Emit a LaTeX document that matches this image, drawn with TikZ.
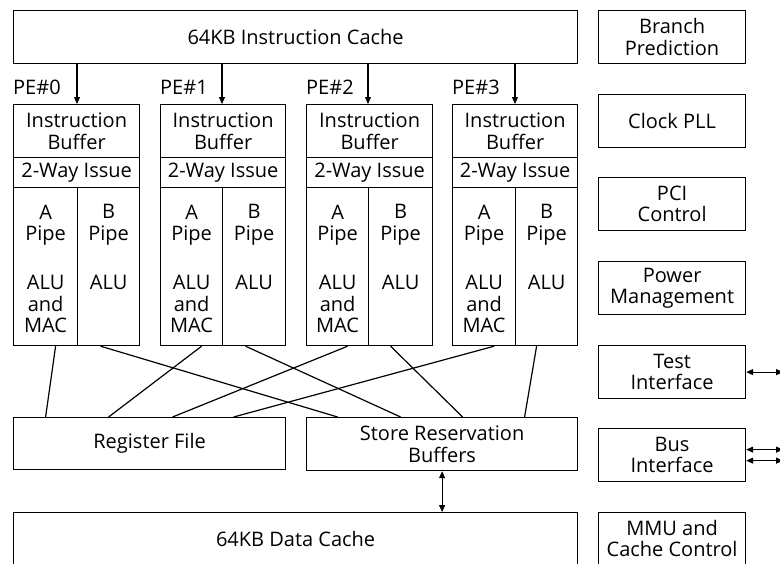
\documentclass[tikz,border=0pt]{standalone}
\usepackage{fontspec}
\setmainfont{Open Sans}
\usetikzlibrary{arrows.meta,calc}
\newcommand\dgfont{\fontsize{20}{21.5}\selectfont}
\begin{document}
\begin{tikzpicture}[x=1pt,y=-1pt,
  box/.style={draw,line width=1.2pt,inner sep=0pt,align=center,font=\dgfont,anchor=north west},
  txt/.style={inner sep=0pt,align=center,font=\dgfont},
  ln/.style={line width=1.2pt},
  arr/.style={line width=1.2pt,-{Triangle[length=7pt,width=6pt]}},
  darr/.style={line width=1.2pt,{Triangle[length=7pt,width=6pt]}-{Triangle[length=7pt,width=6pt]}}]
\useasboundingbox (0,0) rectangle (780,563);
% top cache
\node[box,minimum width=564pt,minimum height=53pt] (ic) at (13,10) {64KB Instruction Cache};
% right column
\node[box,minimum width=147pt,minimum height=53pt] (bp) at (598,10) {Branch\\Prediction};
\node[box,minimum width=147pt,minimum height=53pt] (clk) at (598,94) {Clock PLL};
\node[box,minimum width=147pt,minimum height=53pt] (pci) at (598,177) {PCI\\Control};
\node[box,minimum width=147pt,minimum height=53pt] (pwr) at (598,261) {Power\\Management};
\node[box,minimum width=147pt,minimum height=53pt] (tst) at (598,345) {Test\\Interface};
\node[box,minimum width=147pt,minimum height=53pt] (bus) at (598,428) {Bus\\Interface};
\node[box,minimum width=147pt,minimum height=52pt] (mmu) at (598,512) {MMU and\\Cache Control};
% PEs
\foreach \i/\L/\S/\R in {0/13/77/139, 1/160/222/285, 2/306/368/432, 3/452/515/577}{
  \node[box,minimum width={(\R-\L)*1pt},minimum height=53pt] (ib\i) at (\L,104) {Instruction\\Buffer};
  \node[box,minimum width={(\R-\L)*1pt},minimum height=30pt] (is\i) at (\L,157) {2-Way Issue};
  \node[box,minimum width={(\S-\L)*1pt},minimum height=158pt] (pa\i) at (\L,187) {};
  \node[box,minimum width={(\R-\S)*1pt},minimum height=158pt] (pb\i) at (\S,187) {};
  \node[txt,anchor=north] (ta\i) at ([yshift=-17.5pt]pa\i.north) {A\\Pipe\\[27.5pt]ALU\\and\\MAC};
  \node[txt,anchor=north] (tb\i) at ([yshift=-17.5pt]pb\i.north) {B\\Pipe\\[27.5pt]ALU};
  \node[txt,anchor=base west] (pe\i) at (\L,94) {PE\#\i};
  \draw[arr] (ic.south -| pb\i.west) -- (ib\i.north -| pb\i.west);
}
% bottom blocks
\node[box,minimum width=272pt,minimum height=52pt] (rf) at (13,417) {Register File};
\node[box,minimum width=271pt,minimum height=53pt] (srb) at (306,417) {Store Reservation\\Buffers};
\node[box,minimum width=564pt,minimum height=52pt] (dc) at (13,512) {64KB Data Cache};
% crossbar
\draw[ln] ([xshift=10pt]pa0.south) -- ([xshift=-104pt]rf.north);
\draw[ln] ([xshift=10pt]pa1.south) -- ([xshift=-41pt]rf.north);
\draw[ln] ([xshift=10pt]pa2.south) -- ([xshift=23pt]rf.north);
\draw[ln] ([xshift=10pt]pa3.south) -- ([xshift=84pt]rf.north);
\draw[ln] ([xshift=-8pt]pb0.south) -- ([xshift=-104.5pt]srb.north);
\draw[ln] ([xshift=-8.5pt]pb1.south) -- ([xshift=-41.5pt]srb.north);
\draw[ln] ([xshift=-10pt]pb2.south) -- ([xshift=20.5pt]srb.north);
\draw[ln] ([xshift=-10pt]pb3.south) -- ([xshift=82.5pt]srb.north);
% data path
\draw[darr] (srb.south) -- (srb.south |- dc.north);
% external
\coordinate (ext) at (783,0);
\draw[darr] (tst.east) -- (tst.east -| ext);
\draw[darr] ([yshift=5.5pt]bus.east) -- ([yshift=5.5pt]bus.east -| ext);
\draw[darr] ([yshift=-5.5pt]bus.east) -- ([yshift=-5.5pt]bus.east -| ext);
\end{tikzpicture}
\end{document}
